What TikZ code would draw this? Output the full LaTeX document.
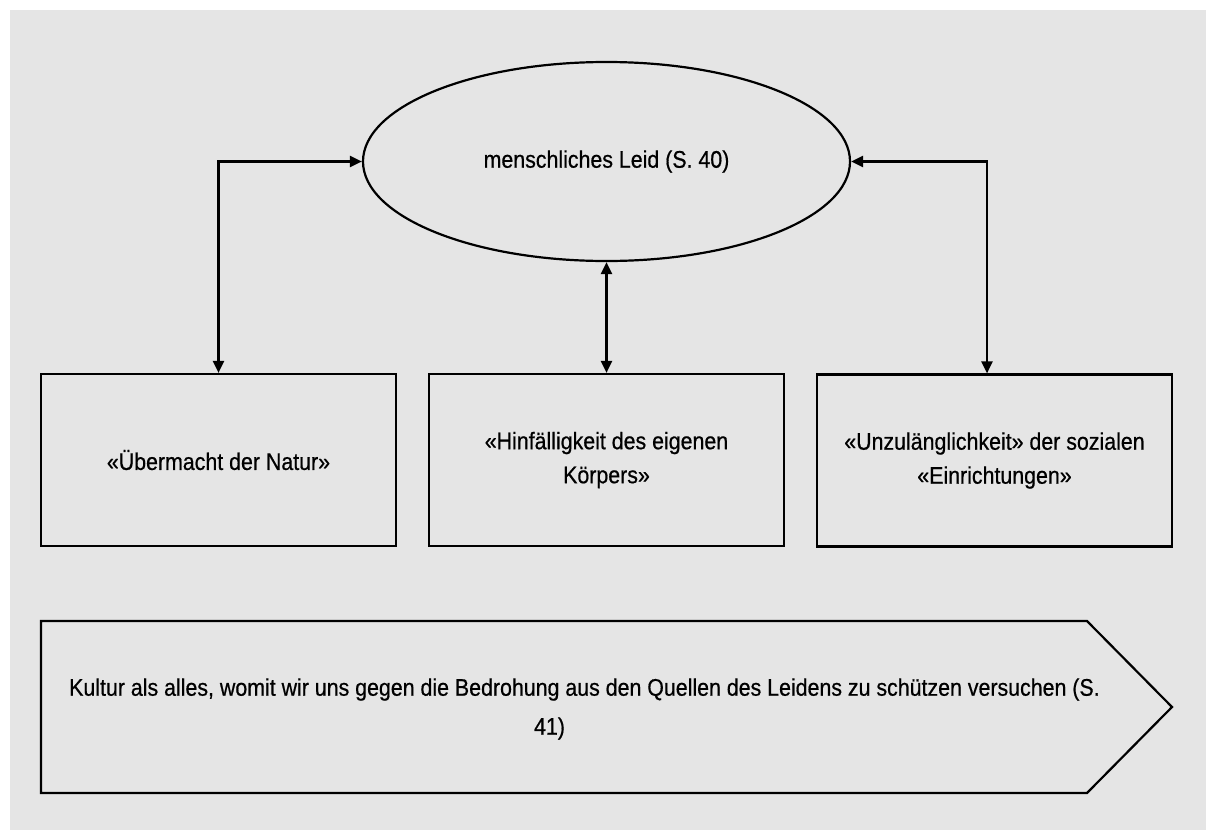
\documentclass[tikz,border=0pt]{standalone}
\usepackage{fontspec}
\setmainfont{Liberation Sans}[FakeStretch=0.89,FakeBold=0.6]
\usetikzlibrary{arrows.meta,shapes.geometric}
\definecolor{bggray}{RGB}{229,229,229}
\tikzset{
  every node/.style={font=\fontsize{24}{34}\selectfont},
  box/.style={draw=black,line width=2.2pt,minimum width=355pt,minimum height=172pt,inner sep=0pt,align=center},
  oval/.style={draw=black,line width=2.2pt,ellipse,minimum width=487pt,minimum height=199pt,inner sep=0pt},
  link/.style={line width=2.2pt,{Triangle[length=12pt,width=11pt]}-{Triangle[length=12pt,width=11pt]}},
}
\begin{document}
\begin{tikzpicture}[x=1pt,y=-1pt]
\useasboundingbox (0,0) rectangle (1206,830);
\fill[bggray] (10,10) rectangle (1206,830);
\node[oval] (e) at (606.5,161.5) {menschliches Leid (S. 40)};
\node[box] (b1) at (218.5,460) {«Übermacht der Natur»};
\node[box] (b2) at (606.5,460) {«Hinfälligkeit des eigenen\\Körpers»};
\node[box] (b3) at (994.5,460.5) {«Unzulänglichkeit» der sozialen\\«Einrichtungen»};
\draw[line width=2.2pt,line join=miter] (41,621) -- (1087,621) -- (1172,707) -- (1087,793) -- (41,793) -- cycle;
\node[align=center,font=\fontsize{24}{39}\selectfont] (k) at (584.5,709) {Kultur als alles, womit wir uns gegen die Bedrohung aus den Quellen des Leidens zu schützen versuchen (S.\\41)\hspace*{70pt}};
\draw[link] (e.west) -| (b1.north);
\draw[link] (e.south) -- (b2.north);
\draw[link] (e.east) -| ([xshift=-7.5pt]b3.north);
\end{tikzpicture}
\end{document}
